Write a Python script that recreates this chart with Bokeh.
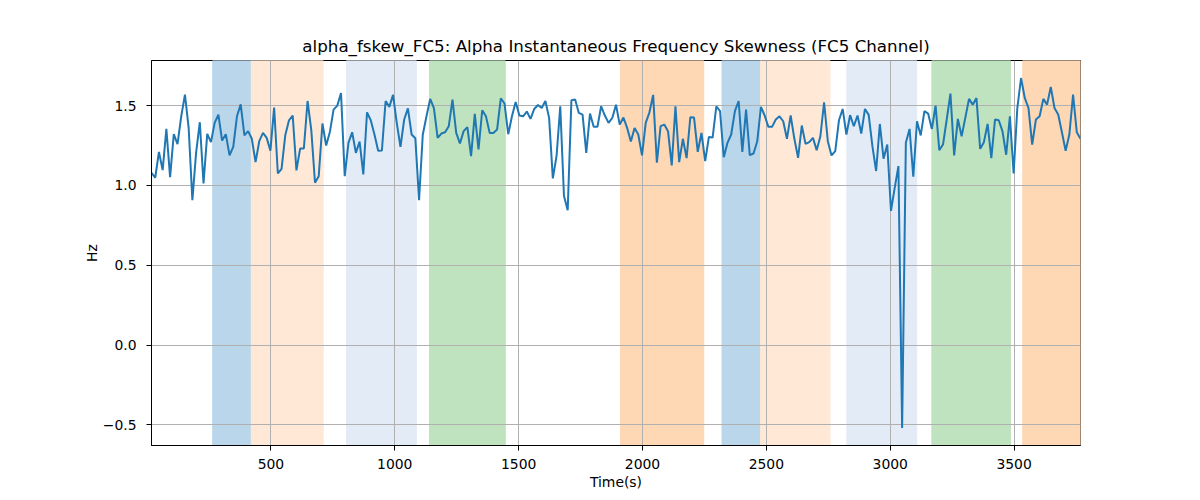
import numpy as np
from bokeh.plotting import figure
from bokeh.models import Range1d, FixedTicker, ColumnDataSource
from bokeh.embed import file_html
from bokeh.resources import INLINE

# ---- data ----
t_start = 18
t_step = 15
hz = [
    1.079, 1.048, 1.210, 1.096, 1.354, 1.052, 1.321, 1.258, 1.433, 1.569,
    1.360, 0.908, 1.204, 1.396, 1.013, 1.323, 1.271, 1.392, 1.444, 1.281,
    1.321, 1.188, 1.242, 1.433, 1.508, 1.313, 1.340, 1.292, 1.146, 1.277,
    1.329, 1.298, 1.217, 1.488, 1.075, 1.104, 1.315, 1.408, 1.438, 1.094,
    1.231, 1.231, 1.529, 1.346, 1.017, 1.058, 1.388, 1.250, 1.335, 1.475,
    1.500, 1.579, 1.058, 1.267, 1.333, 1.204, 1.275, 1.069, 1.458, 1.408,
    1.319, 1.217, 1.219, 1.529, 1.492, 1.567, 1.392, 1.242, 1.413, 1.483,
    1.319, 1.296, 0.908, 1.317, 1.433, 1.542, 1.485, 1.298, 1.325, 1.333,
    1.371, 1.538, 1.329, 1.263, 1.340, 1.365, 1.183,
    1.448, 1.225, 1.471, 1.433, 1.329, 1.329, 1.350, 1.546, 1.513, 1.321,
    1.433, 1.523, 1.438, 1.433, 1.463, 1.417, 1.479, 1.504, 1.485, 1.529,
    1.423, 1.044, 1.183, 1.496, 0.933, 0.844, 1.533, 1.538, 1.454, 1.444,
    1.204, 1.450, 1.367, 1.367, 1.496, 1.438, 1.392, 1.423, 1.506, 1.381,
    1.425, 1.360, 1.275, 1.360, 1.319, 1.188, 1.392, 1.458, 1.567, 1.142,
    1.371, 1.381, 1.340, 1.125, 1.496, 1.146, 1.292, 1.171, 1.427, 1.425,
    1.210, 1.329, 1.152, 1.304, 1.300, 1.496, 1.465, 1.177, 1.267, 1.319,
    1.465, 1.529, 1.210, 1.475, 1.190, 1.200, 1.275, 1.492, 1.438, 1.367,
    1.367, 1.413, 1.433, 1.402, 1.292, 1.438,
    1.292, 1.173, 1.375, 1.260, 1.271, 1.298, 1.221, 1.308, 1.521, 1.277,
    1.188, 1.215, 1.408, 1.479, 1.319, 1.440, 1.371, 1.438, 1.325, 1.479,
    1.442, 1.246, 1.090, 1.385, 1.167, 1.256, 0.840, 0.985, 1.121, -0.52,
    1.267, 1.354, 1.054, 1.402, 1.313, 1.465, 1.450, 1.354, 1.500, 1.221,
    1.256, 1.413, 1.575, 1.188, 1.417, 1.308, 1.423, 1.542, 1.506, 1.548,
    1.229, 1.271, 1.385, 1.171, 1.413, 1.408, 1.340, 1.192, 1.433, 1.075,
    1.485, 1.673, 1.548, 1.485, 1.256, 1.413, 1.433, 1.542, 1.506, 1.617,
    1.485, 1.444, 1.333, 1.217, 1.319, 1.569, 1.333, 1.292,
]
time_s = [t_start + t_step * i for i in range(len(hz))]

span_start = [265, 421, 805, 1140, 1911, 2321, 2477, 2825, 3168, 3535]
span_end = [421, 711, 1087, 1446, 2247, 2477, 2757, 3107, 3485, 3768]
span_kind = ["blue", "lorange", "lblue", "green", "orange",
             "blue", "lorange", "lblue", "green", "orange"]

x_ticks = [500, 1000, 1500, 2000, 2500, 3000, 3500]
y_ticks = [-0.5, 0.0, 0.5, 1.0, 1.5]

title_text = "alpha_fskew_FC5: Alpha Instantaneous Frequency Skewness (FC5 Channel)"
x_label = "Time(s)"
y_label = "Hz"

# ---- styles ----
kind_color = {
    "blue": "#bad6ea",
    "lorange": "#ffe9d6",
    "lblue": "#e3ebf6",
    "green": "#bfe2bf",
    "orange": "#fed7b5",
}
FONT = "DejaVu Sans"

ymin, ymax = min(hz), max(hz)
pad = 0.05 * (ymax - ymin)

p = figure(
    width=1192, height=493,
    output_backend="svg", toolbar_location=None,
    x_range=Range1d(time_s[0], time_s[-1]),
    y_range=Range1d(ymin - pad, ymax + pad),
    min_border_left=151, min_border_right=112,
    min_border_top=60, min_border_bottom=48,
)
p.background_fill_color = "white"
p.border_fill_color = "white"
p.outline_line_color = "black"
p.outline_line_width = 1
p.outline_line_alpha = 1

# spans
span_src = ColumnDataSource(dict(
    left=span_start, right=span_end,
    bottom=[ymin - pad] * len(span_start), top=[ymax + pad] * len(span_start),
    color=[kind_color[k] for k in span_kind],
))
r = p.quad(left="left", right="right", bottom="bottom", top="top",
           fill_color="color", line_color="color", line_width=1, source=span_src)
r.level = "image"

p.line(time_s, hz, line_color="#1f77b4", line_width=2)

# title
p.title.text = title_text
p.title.align = "center"
p.title.text_font = FONT
p.title.text_font_size = "16.7px"
p.title.text_font_style = "normal"
p.title.text_color = "black"

for ax in (p.xaxis[0], p.yaxis[0]):
    ax.axis_label_text_font = FONT
    ax.axis_label_text_font_size = "13.9px"
    ax.axis_label_text_font_style = "normal"
    ax.axis_label_text_color = "black"
    ax.major_label_text_font = FONT
    ax.major_label_text_font_size = "13.9px"
    ax.major_label_text_color = "black"
    ax.major_tick_out = 5
    ax.major_tick_in = 0
    ax.minor_tick_out = 0
    ax.minor_tick_in = 0
    ax.axis_line_color = "black"
    ax.major_tick_line_color = "black"

p.xaxis.axis_label = x_label
p.yaxis.axis_label = y_label
p.xaxis.major_label_standoff = 8
p.xaxis.axis_label_standoff = 2
p.yaxis.major_label_standoff = 10
p.yaxis.axis_label_standoff = 0
p.xaxis.ticker = FixedTicker(ticks=x_ticks)
p.yaxis.ticker = FixedTicker(ticks=y_ticks)
p.yaxis.major_label_overrides = {-0.5: "\u22120.5", 0.0: "0.0", 0.5: "0.5", 1.0: "1.0", 1.5: "1.5"}
p.yaxis.major_label_orientation = "horizontal"

p.grid.grid_line_color = "#b0b0b0"
p.grid.grid_line_width = 1
p.grid.grid_line_alpha = 1

open("out.html", "w").write(file_html(p, INLINE))
